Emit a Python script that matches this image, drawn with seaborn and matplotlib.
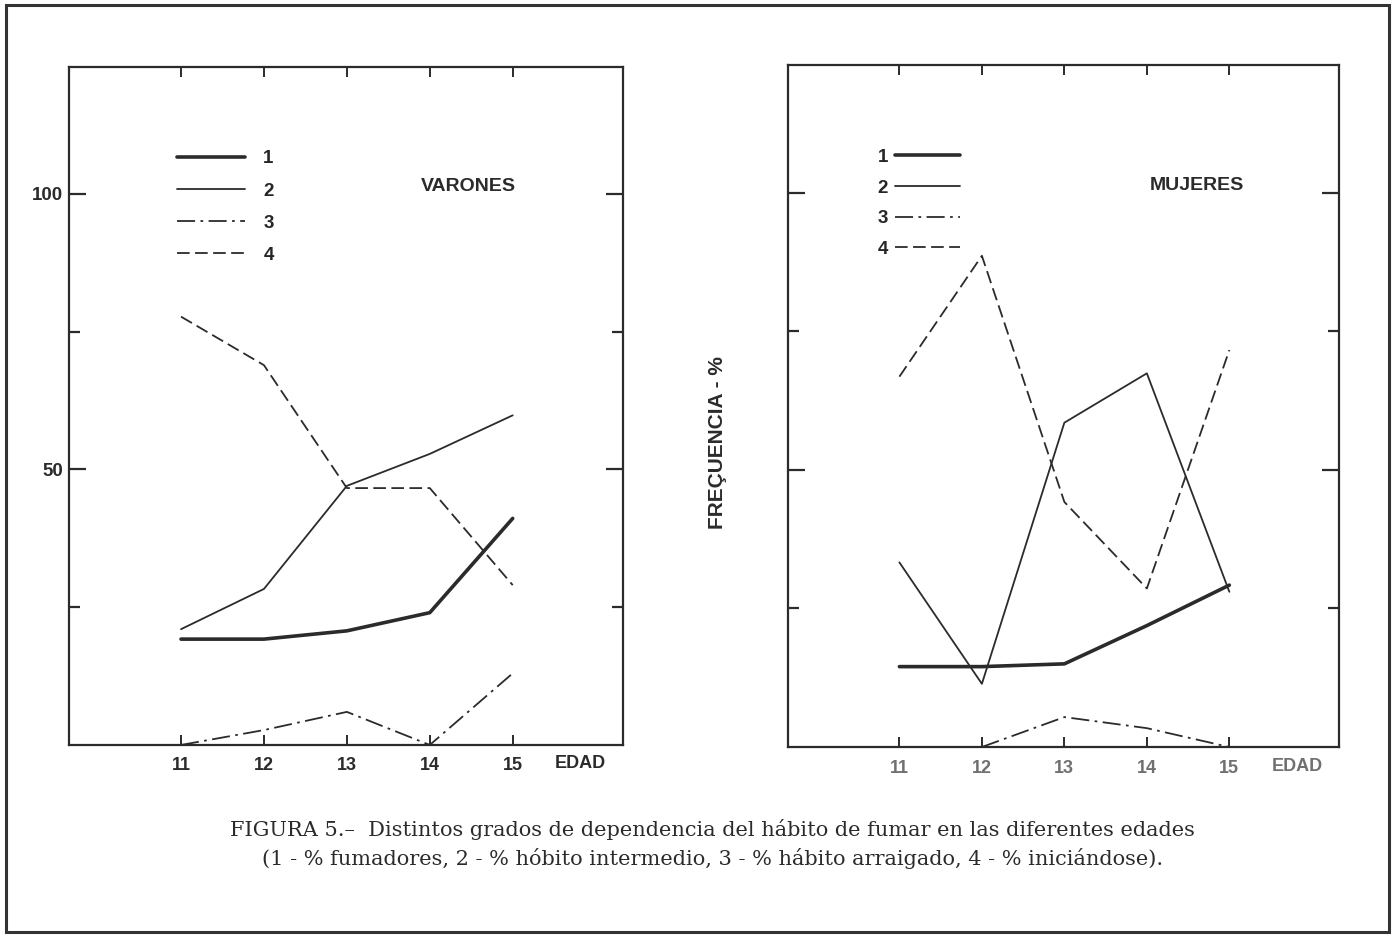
import matplotlib
matplotlib.use("Agg")
import matplotlib.pyplot as plt
import seaborn as sns
import pandas as pd
import numpy as np

# ages on the x axis
edades = [11, 12, 13, 14, 15]

# VARONES (% per age)
var_1 = [19.2, 19.2, 20.7, 24.0, 41.1]
var_2 = [21.0, 28.3, 47.0, 52.8, 59.8]
var_3 = [0.0, 2.7, 6.0, 0.0, 13.0]
var_4 = [77.7, 68.9, 46.6, 46.6, 29.0]

# MUJERES (% per age)
muj_1 = [14.5, 14.5, 15.0, 21.9, 29.2]
muj_2 = [33.3, 11.4, 58.5, 67.4, 28.0]
muj_3 = [np.nan, 0.0, 5.4, 3.4, 0.0]
muj_4 = [66.8, 88.6, 44.2, 28.6, 71.6]

series = ["1", "2", "3", "4"]
y_ticks_major = [50, 100]
y_ticks_minor = [25, 75]

caption = ("FIGURA 5.\u2013  Distintos grados de dependencia del hábito de fumar en las diferentes edades\n"
           "(1 - % fumadores, 2 - % hóbito intermedio, 3 - % hábito arraigado, 4 - % iniciándose).")

sns.set_style("white")
plt.rcParams['font.family'] = ['Liberation Sans', 'DejaVu Sans']

styles = {
    "1": dict(linewidth=2.6, linestyle="-"),
    "2": dict(linewidth=1.3, linestyle="-"),
    "3": dict(linewidth=1.3, linestyle=(0, (10, 3, 1.5, 3))),
    "4": dict(linewidth=1.3, linestyle=(0, (7, 3))),
}
ink = "#2b2b2b"

fig = plt.figure(figsize=(13.95, 9.36), dpi=100)
ax1 = fig.add_axes([0.0495, 0.2041, 0.3971, 0.7244])
ax2 = fig.add_axes([0.5649, 0.2019, 0.3950, 0.7286])


def long_df(vals):
    rows = []
    for s, v in zip(series, vals):
        for e, y in zip(edades, v):
            rows.append({"edad": e, "valor": y, "serie": s})
    return pd.DataFrame(rows)


panels = [
    (ax1, long_df([var_1, var_2, var_3, var_4]), "VARONES", 0.72, True),
    (ax2, long_df([muj_1, muj_2, muj_3, muj_4]), "MUJERES", 0.742, False),
]

for ax, df, name, name_x, left in panels:
    for s in series:
        sub = df[df["serie"] == s].dropna()
        sns.lineplot(data=sub, x="edad", y="valor", ax=ax, color=ink,
                     label=s, **styles[s])
    ax.set_xlim(9.65, 16.33)
    ax.set_ylim(0, 123)
    ax.set_xlabel("")
    ax.set_ylabel("")
    for sp in ax.spines.values():
        sp.set_visible(True)
        sp.set_color(ink)
        sp.set_linewidth(1.6)
    ax.set_xticks(edades)
    ax.set_yticks(y_ticks_major)
    ax.set_yticks(y_ticks_minor, minor=True)
    ax.tick_params(axis="x", which="major", direction="in", length=7, width=1.4,
                   top=True, bottom=True, pad=9, colors=ink,
                   labelsize=13)
    ax.tick_params(axis="y", which="major", direction="in", length=12, width=1.6,
                   left=True, right=True, pad=4, colors=ink, labelsize=13.5,
                   labelleft=left)
    ax.tick_params(axis="y", which="minor", direction="in", length=8, width=1.6,
                   left=True, right=True, colors=ink)
    for t in ax.get_xticklabels() + ax.get_yticklabels():
        t.set_fontweight("bold")
    if not left:
        for t in ax.get_xticklabels():
            t.set_color("#707070")
    ax.text(name_x, 0.823, name, transform=ax.transAxes, ha="center", va="center",
            fontsize=14, fontweight="bold", color=ink)
    edad_col = ink if left else "#707070"
    ax.text(15.82, -0.028, "EDAD", transform=ax.get_xaxis_transform(), ha="center",
            va="center", fontsize=13, fontweight="bold", color=edad_col)
    ax.get_legend().remove()

# legends
h1, l1 = ax1.get_legend_handles_labels()
ax1.legend(h1, l1, loc="upper left", bbox_to_anchor=(0.195, 0.877), frameon=False,
           borderpad=0, borderaxespad=0, handlelength=3.6, handletextpad=1.0,
           labelspacing=0.8, prop={"weight": "bold", "size": 13.5})
h2, l2 = ax2.get_legend_handles_labels()
ax2.legend(h2, l2, loc="upper left", bbox_to_anchor=(0.163, 0.877), frameon=False,
           borderpad=0, borderaxespad=0, handlelength=3.5, handletextpad=0.35,
           labelspacing=0.72, markerfirst=False,
           prop={"weight": "bold", "size": 13.5})

fig.text(0.514, 0.527, "FREÇUENCIA - %", rotation=90, ha="center", va="center",
         fontsize=15, fontweight="bold", color=ink)

fig.text(0.511, 0.098, caption, ha="center", va="center", fontsize=15,
         family="DejaVu Serif", color=ink, linespacing=1.45)

fig.patches.append(plt.Rectangle((0.004, 0.004), 0.992, 0.991, transform=fig.transFigure,
                                 fill=False, edgecolor="#333333", linewidth=2.2))

fig.savefig("out.png", dpi=100)
